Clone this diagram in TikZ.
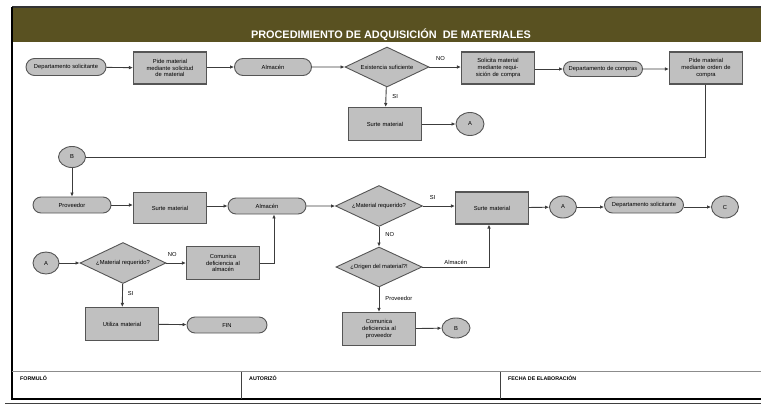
\documentclass[tikz,border=0pt]{standalone}
\usepackage{fontspec}
\setmainfont{Liberation Sans}
\usetikzlibrary{shapes.geometric,shapes.misc,arrows.meta}
\definecolor{olive}{RGB}{89,81,33}
\definecolor{shapefill}{RGB}{192,192,192}
\definecolor{shapeline}{RGB}{85,85,85}
\definecolor{wire}{RGB}{60,60,60}
\tikzset{
  base/.style={fill=shapefill,draw=shapeline,line width=1.1pt,inner sep=1pt,
    align=center,font=\fontsize{5.8}{6.6}\selectfont},
  procbox/.style={base,rectangle,minimum width=73pt,minimum height=32pt,text width=66pt},
  termnode/.style={base,rounded rectangle,minimum height=17pt,line width=0.9pt},
  decnode/.style={base,diamond,shape aspect=2.1,minimum width=86pt,minimum height=41pt,inner sep=0pt,line width=0.9pt},
  conn/.style={base,ellipse,minimum width=27pt,minimum height=22pt,line width=0.9pt},
  flow/.style={draw=wire,line width=0.9pt,-{Latex[length=4pt,width=3.6pt]}},
  plain/.style={draw=wire,line width=0.9pt},
  lbl/.style={font=\fontsize{5.8}{6.5}\selectfont,inner sep=0pt},
  foot/.style={font=\bfseries\fontsize{5.3}{6}\selectfont,anchor=west,inner sep=0pt}
}
\begin{document}
\begin{tikzpicture}[x=1pt,y=-1pt]
\useasboundingbox (0,0) rectangle (761,405);
% header band and title
\fill[olive] (13,8) rectangle (761,42);
\node[text=white,font=\bfseries\fontsize{10.9}{12}\selectfont,inner sep=0pt] (title) at (391,35)
  {PROCEDIMIENTO DE ADQUISICIÓN \ DE MATERIALES};
% frame
\draw[line width=1.2pt,black!80] (12,7) -- (761,7);
\draw[line width=2pt] (12,7) -- (12,399) -- (761,399);
\draw[line width=1.4pt,black!75] (5,403.5) -- (761,403.5);
\draw[line width=1pt,black!45] (12,371.5) -- (761,371.5);
\draw[line width=1pt,black!75] (241,371.5) -- (241,399);
\draw[line width=1pt,black!75] (500,371.5) -- (500,399);
\node[foot] (f1) at (20,378) {FORMULÓ};
\node[foot] (f2) at (249,378) {AUTORIZÓ};
\node[foot] (f3) at (508,378) {FECHA DE ELABORACIÓN};

% first row
\node[termnode,minimum width=82pt] (ds1) at (66,67) {Departamento solicitante};
\node[procbox] (pm1) at (170,68) {Pide material\\mediante solicitud\\de material};
\node[termnode,minimum width=79pt] (alm1) at (273,67) {Almacén};
\node[decnode,minimum width=84pt,minimum height=40pt] (ex) at (387,67) {Existencia suficiente};
\node[procbox] (sol) at (498,68) {Solicita material\\mediante requi-\\sición de compra};
\node[termnode,minimum width=81pt,minimum height=15pt] (dc) at (603,69) {Departamento de compras};
\node[procbox] (pmo) at (706,68) {Pide material\\mediante orden de\\compra};
\node[procbox,minimum height=33pt] (su1) at (385,124) {Surte material};
\node[conn,minimum width=28pt,minimum height=23pt] (a1) at (470,124) {A};

% second row
\node[conn,minimum height=21pt] (b1) at (72,157) {B};
\node[termnode,minimum width=80pt,minimum height=16pt] (prov) at (72,205) {Proveedor};
\node[procbox,minimum height=31pt] (su2) at (170,208) {Surte material};
\node[termnode,minimum width=80pt,minimum height=16pt] (alm2) at (267,206) {Almacén};
\node[decnode,minimum width=87pt] (mr1) at (379,206) {¿Material requerido?};
\node[procbox] (su3) at (492,208) {Surte material};
\node[conn] (a2) at (563,207) {A};
\node[termnode,minimum width=81pt,minimum height=16pt] (ds2) at (644,205) {Departamento solicitante};
\node[conn] (c1) at (725,207) {C};

% third row
\node[conn,minimum width=26pt] (a3) at (46,263) {A};
\node[decnode] (mr2) at (123,263) {¿Material requerido?};
\node[procbox,minimum height=33pt] (com) at (223,263) {Comunica\\deficiencia al\\almacén};
\node[decnode,minimum height=40pt] (orig) at (379,267) {¿Origen del material?!};
\node[procbox,minimum height=33pt] (util) at (122,324) {Utiliza material};
\node[termnode,minimum width=82pt,minimum height=16pt] (fin) at (227,325) {FIN};
\node[procbox,minimum height=33pt] (comp) at (379,329) {Comunica\\deficiencia al\\proveedor};
\node[conn,minimum width=28pt,minimum height=20pt] (b2) at (456,328) {B};

% connectors, first row
\draw[flow] (ds1) -- (pm1);
\draw[flow] (pm1.east |- alm1) -- (alm1);
\draw[flow] (alm1) -- (ex);
\draw[flow] (ex) -- (sol.west |- ex) node[lbl,pos=0.35,above=6pt] {NO};
\draw[flow] (sol.east |- dc) -- (dc);
\draw[flow] (dc) -- (pmo.west |- dc);
\draw[flow] (ex) -- (su1) node[lbl,pos=0.45,right=6pt] {SI};
\draw[flow] (su1) -- (a1);
\coordinate (turn) at (705,157);
\draw[plain] (pmo.south -| turn) -- (turn) -- (b1);

% connectors, second row
\draw[flow] (b1) -- (prov);
\draw[flow] (prov.east) -- (su2.west |- prov.east);
\draw[flow] (su2.east |- alm2) -- (alm2);
\draw[flow] (alm2) -- (mr1);
\draw[flow] (mr1) -- (su3.west |- mr1) node[lbl,pos=0.3,above=6pt] {SI};
\draw[flow] (su3) -- (a2);
\draw[flow] (a2) -- (ds2.west |- a2);
\draw[flow] (ds2.east |- c1) -- (c1);
\draw[flow] (mr1) -- (orig) node[lbl,pos=0.4,right=6pt] {NO};
\coordinate (up1) at (489,267);
\draw[flow] (orig.east) -- (up1) node[lbl,pos=0.5,above=2pt] {Almacén} -- (up1 |- su3.south);
\draw[flow] (orig) -- (comp) node[lbl,pos=0.45,right=6pt] {Proveedor};
\draw[flow] (comp) -- (b2);

% connectors, third row
\draw[flow] (a3) -- (mr2);
\draw[flow] (mr2) -- (com) node[lbl,pos=0.3,above=6pt] {NO};
\coordinate (up2) at (274,263);
\draw[flow] (com.east) -- (up2) -- (up2 |- alm2.south);
\draw[flow] (mr2) -- (util) node[lbl,pos=0.4,right=5pt] {SI};
\draw[flow] (util) -- (fin);
\end{tikzpicture}
\end{document}
